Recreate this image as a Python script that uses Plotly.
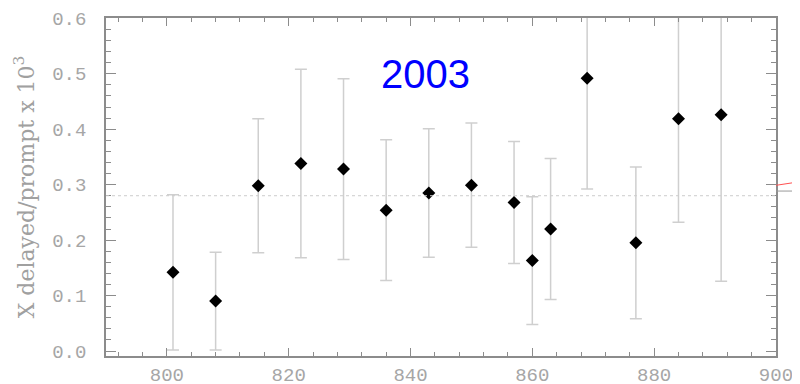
import plotly.graph_objects as go

# delayed/prompt ratio (x 10^3) vs run number, 2003
run = [801, 808, 815, 822, 829, 836, 843, 850, 857, 860, 863, 869, 877, 884, 891]
ratio = [0.142, 0.090, 0.298, 0.338, 0.328, 0.254, 0.285, 0.299, 0.268,
         0.163, 0.220, 0.492, 0.195, 0.419, 0.426]
err = [0.140, 0.088, 0.121, 0.170, 0.163, 0.127, 0.116, 0.112, 0.110,
       0.115, 0.127, 0.200, 0.137, 0.187, 0.300]
mean_level = 0.28
label_year = "2003"

axis_gray = "#8c8c8c"
tick_font = dict(family="Liberation Mono", size=19, color="#a6a6a6")

fig = go.Figure()
fig.add_trace(go.Scatter(
    x=run, y=ratio, mode="markers",
    marker=dict(symbol="diamond", size=10, color="black"),
    error_y=dict(type="data", array=err, visible=True,
                 color="#cfcfcf", thickness=1.5, width=6),
    showlegend=False))

fig.add_hline(y=mean_level, line=dict(color="#cccccc", width=1, dash="dot"))

fig.add_annotation(x=842.5, y=0.5, text=label_year, showarrow=False,
                   font=dict(family="Liberation Sans", size=40, color="#0000ff"))

# fragments of the neighbouring panel, past the right edge
fig.add_shape(type="line", xref="paper", yref="paper",
              x0=1.0, x1=1.04, y0=0.505, y1=0.517,
              line=dict(color="#ff5050", width=1))
fig.add_shape(type="line", xref="paper", yref="paper",
              x0=1.0, x1=1.04, y0=0.488, y1=0.488,
              line=dict(color="#999999", width=1))

fig.update_xaxes(range=[790, 900.01], tickvals=[800, 820, 840, 860, 880, 900],
                 ticks="inside", ticklen=8, tickcolor=axis_gray,
                 minor=dict(dtick=4, tick0=800, ticks="inside", ticklen=4,
                            tickcolor=axis_gray),
                 showline=True, linecolor=axis_gray, linewidth=1.5, mirror="ticks",
                 showgrid=False, zeroline=False, tickfont=tick_font,
                 ticklabelstandoff=0, automargin=False)
fig.update_yaxes(range=[-0.009, 0.6005], tickvals=[0, 0.1, 0.2, 0.3, 0.4, 0.5, 0.6],
                 tickformat=".1f",
                 ticks="inside", ticklen=10, tickcolor=axis_gray,
                 minor=dict(dtick=0.02, tick0=0, ticks="inside", ticklen=5,
                            tickcolor=axis_gray),
                 showline=True, linecolor=axis_gray, linewidth=1.5, mirror="ticks",
                 showgrid=False, zeroline=False, tickfont=tick_font,
                 ticklabelstandoff=14, automargin=False,
                 title=dict(text="X delayed/prompt x 10<sup>3</sup>", standoff=12,
                            font=dict(family="DejaVu Serif", size=22,
                                      color="#a0a0a0")))

# page body adds a small offset; margins compensate for it
fig.update_layout(width=800, height=384,
                  margin=dict(l=98, r=32, t=10, b=36),
                  plot_bgcolor="white", paper_bgcolor="white")

fig.write_html("out.html")
